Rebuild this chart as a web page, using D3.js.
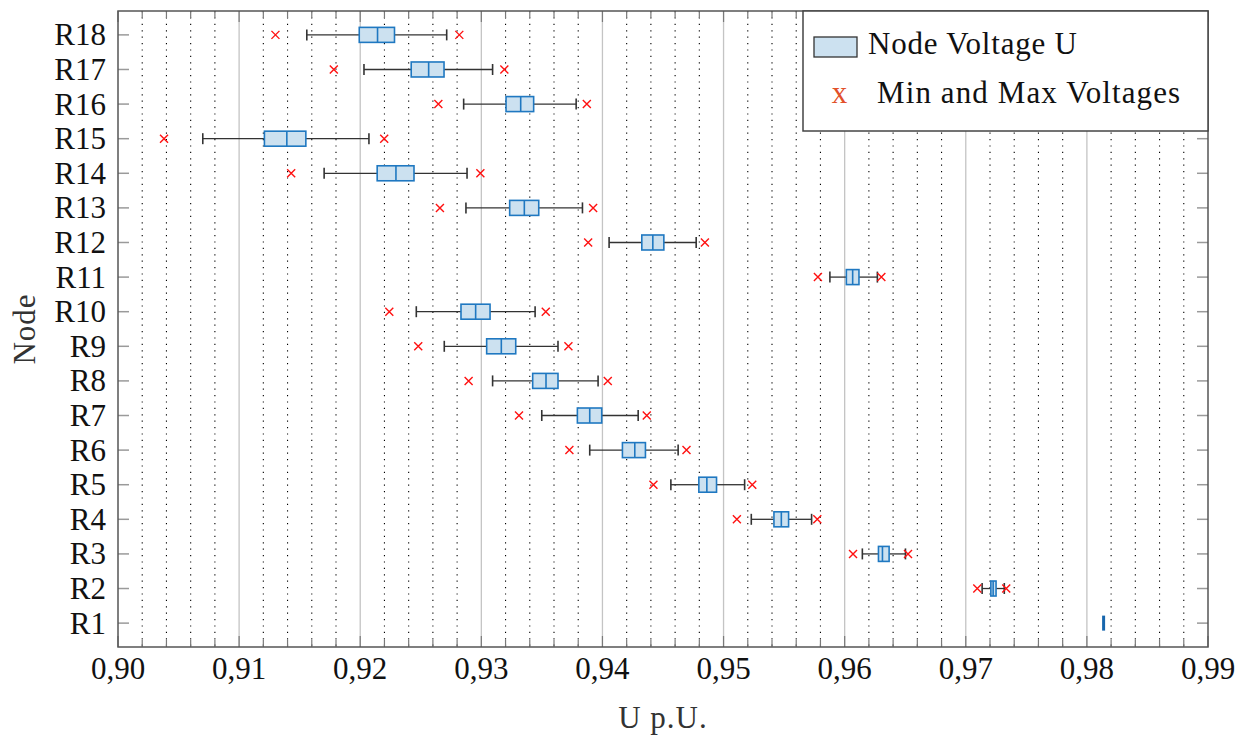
<!DOCTYPE html>
<html>
<head>
<meta charset="utf-8">
<script src="https://cdn.jsdelivr.net/npm/d3@7"></script>
<style>
  html, body { margin: 0; padding: 0; background: #fff; }
</style>
</head>
<body>
<svg id="chart" width="1238" height="735"></svg>
<script>
// Node voltage distributions (per unit) for nodes R1..R18
const nodes       = ["R1","R2","R3","R4","R5","R6","R7","R8","R9","R10","R11","R12","R13","R14","R15","R16","R17","R18"];
const whiskerLow  = [0.98138,0.97135,0.96146,0.95229,0.94565,0.93895,0.93499,0.93093,0.92694,0.92463,0.95878,0.94055,0.92873,0.91702,0.90700,0.92854,0.92031,0.91559];
const q1          = [0.98138,0.97207,0.96279,0.95416,0.94796,0.94165,0.93793,0.93424,0.93044,0.92832,0.96014,0.94325,0.93234,0.92140,0.91209,0.93204,0.92421,0.91992];
const median      = [0.98138,0.97226,0.96312,0.95477,0.94862,0.94267,0.93895,0.93534,0.93165,0.92953,0.96066,0.94416,0.93355,0.92295,0.91394,0.93325,0.92565,0.92143];
const q3          = [0.98138,0.97250,0.96367,0.95537,0.94942,0.94355,0.93994,0.93633,0.93284,0.93072,0.96118,0.94507,0.93474,0.92444,0.91551,0.93432,0.92692,0.92283];
const whiskerHigh = [0.98138,0.97318,0.96502,0.95727,0.95174,0.94625,0.94295,0.93964,0.93633,0.93444,0.96270,0.94774,0.93835,0.92882,0.92072,0.93783,0.93093,0.92714];
const minVoltage  = [null,0.97095,0.96069,0.95110,0.94421,0.93727,0.93311,0.92895,0.92479,0.92240,0.95779,0.93882,0.92658,0.91430,0.90380,0.92645,0.91782,0.91300];
const maxVoltage  = [null,0.97334,0.96523,0.95774,0.95237,0.94694,0.94366,0.94044,0.93719,0.93532,0.96303,0.94846,0.93923,0.92992,0.92198,0.93871,0.93190,0.92818];
const xMajorTicks = [0.90,0.91,0.92,0.93,0.94,0.95,0.96,0.97,0.98,0.99];
const xTickLabels = ["0,90","0,91","0,92","0,93","0,94","0,95","0,96","0,97","0,98","0,99"];
const legendLabels = ["Node Voltage U", "Min and Max Voltages"];

const rows = nodes.map((n, i) => ({
  node: n, pos: i + 1,
  lo: whiskerLow[i], q1: q1[i], med: median[i], q3: q3[i], hi: whiskerHigh[i],
  min: minVoltage[i], max: maxVoltage[i]
}));

const FONT = "'Liberation Serif', 'Times New Roman', serif";
const svg = d3.select("#chart");
const L = 118, R = 1208, T = 11, B = 647;

const x = d3.scaleLinear().domain([0.90, 0.99]).range([L, R]);
const y = d3.scaleLinear().domain([0.31, 18.69]).range([B, T]);

const boxHalf = 7.5, capHalf = 5.5, crossHalf = 4;
const boxFill = "#cce1f0", boxStroke = "#1f78c1";

// minor dotted grid (every 0.002)
const minorTicks = d3.range(0, 46).map(k => 0.90 + k * 0.002)
  .filter((v, k) => k % 5 !== 0);
svg.append("g").selectAll("line").data(minorTicks).join("line")
  .attr("x1", d => x(d)).attr("x2", d => x(d))
  .attr("y1", T).attr("y2", B)
  .attr("stroke", "#000").attr("stroke-width", 1.1)
  .attr("stroke-dasharray", "1.2 5.2");

// major grid
svg.append("g").selectAll("line").data(xMajorTicks.slice(1, -1)).join("line")
  .attr("x1", d => x(d)).attr("x2", d => x(d))
  .attr("y1", T).attr("y2", B)
  .attr("stroke", "#c4c4c4").attr("stroke-width", 1.3);

// x ticks, bottom and top
const tickG = svg.append("g").attr("stroke", "#7a7a7a").attr("stroke-width", 1.2);
minorTicks.forEach(v => {
  tickG.append("line").attr("x1", x(v)).attr("x2", x(v)).attr("y1", B).attr("y2", B - 7);
  tickG.append("line").attr("x1", x(v)).attr("x2", x(v)).attr("y1", T).attr("y2", T + 7);
});
xMajorTicks.forEach(v => {
  tickG.append("line").attr("x1", x(v)).attr("x2", x(v)).attr("y1", B).attr("y2", B - 11);
  tickG.append("line").attr("x1", x(v)).attr("x2", x(v)).attr("y1", T).attr("y2", T + 11);
});
// y ticks, left and right
const yTickG = svg.append("g").attr("stroke", "#9a9a9a").attr("stroke-width", 1.5);
rows.forEach(r => {
  yTickG.append("line").attr("x1", L).attr("x2", L + 11).attr("y1", y(r.pos)).attr("y2", y(r.pos));
  yTickG.append("line").attr("x1", R).attr("x2", R - 11).attr("y1", y(r.pos)).attr("y2", y(r.pos));
});

// box plots
const g = svg.append("g");
const row = g.selectAll("g.row").data(rows).join("g").attr("class", "row");

row.append("line")
  .attr("x1", d => x(d.lo)).attr("x2", d => x(d.q1))
  .attr("y1", d => y(d.pos)).attr("y2", d => y(d.pos))
  .attr("stroke", "#333").attr("stroke-width", 1.3);
row.append("line")
  .attr("x1", d => x(d.q3)).attr("x2", d => x(d.hi))
  .attr("y1", d => y(d.pos)).attr("y2", d => y(d.pos))
  .attr("stroke", "#333").attr("stroke-width", 1.3);
row.filter(d => d.hi > d.lo).each(function(d) {
  const s = d3.select(this);
  [d.lo, d.hi].forEach(v => s.append("line")
    .attr("x1", x(v)).attr("x2", x(v))
    .attr("y1", y(d.pos) - capHalf).attr("y2", y(d.pos) + capHalf)
    .attr("stroke", "#333").attr("stroke-width", 1.6));
});
row.filter(d => d.q3 > d.q1).append("rect")
  .attr("x", d => x(d.q1)).attr("width", d => x(d.q3) - x(d.q1))
  .attr("y", d => y(d.pos) - boxHalf).attr("height", boxHalf * 2)
  .attr("fill", boxFill).attr("stroke", boxStroke)
  .attr("stroke-width", 1.6);
// median line (a collapsed box shows as a single thick bar)
row.append("line")
  .attr("x1", d => x(d.med)).attr("x2", d => x(d.med))
  .attr("y1", d => y(d.pos) - boxHalf).attr("y2", d => y(d.pos) + boxHalf)
  .attr("stroke", d => d.q3 > d.q1 ? boxStroke : "#1766ad")
  .attr("stroke-width", d => d.q3 > d.q1 ? 1.6 : 3);

// min / max markers
const crossPath = (cx, cy) =>
  `M${cx - crossHalf},${cy - crossHalf}L${cx + crossHalf},${cy + crossHalf}M${cx - crossHalf},${cy + crossHalf}L${cx + crossHalf},${cy - crossHalf}`;
const extremes = rows.flatMap(r => r.min == null ? [] : [{v: r.min, pos: r.pos}, {v: r.max, pos: r.pos}]);
g.selectAll("path.cross").data(extremes).join("path").attr("class", "cross")
  .attr("d", d => crossPath(x(d.v), y(d.pos)))
  .attr("stroke", "#ff1010").attr("stroke-width", 1.4).attr("fill", "none");

// frame
svg.append("rect").attr("x", L).attr("y", T).attr("width", R - L).attr("height", B - T)
  .attr("fill", "none").attr("stroke", "#555").attr("stroke-width", 1.5);

// tick labels
svg.append("g").selectAll("text").data(xMajorTicks).join("text")
  .attr("x", d => x(d)).attr("y", 679).style("font-family", FONT)
  .attr("text-anchor", "middle").attr("font-size", 31).attr("fill", "#111")
  .text((d, i) => xTickLabels[i]);
svg.append("g").selectAll("text").data(rows).join("text")
  .attr("x", 106).attr("y", d => y(d.pos)).attr("dy", "0.34em").style("font-family", FONT)
  .attr("text-anchor", "end").attr("font-size", 31).attr("fill", "#111")
  .text(d => d.node);

// axis titles
svg.append("text").attr("x", (L + R) / 2).attr("y", 728).style("font-family", FONT)
  .attr("text-anchor", "middle").attr("font-size", 31).attr("fill", "#333")
  .attr("letter-spacing", 1).text("U p.U.");
svg.append("text").attr("transform", `translate(35,${(T + B) / 2}) rotate(-90)`).style("font-family", FONT)
  .attr("text-anchor", "middle").attr("font-size", 31).attr("fill", "#333")
  .attr("letter-spacing", 1).text("Node");

// legend
const lg = svg.append("g");
lg.append("rect").attr("x", 803).attr("y", T).attr("width", R - 803).attr("height", 120)
  .attr("fill", "#fff").attr("stroke", "#444").attr("stroke-width", 1.5);
lg.append("rect").attr("x", 814).attr("y", 37).attr("width", 43).attr("height", 20)
  .attr("fill", boxFill).attr("stroke", "#333").attr("stroke-width", 1.3);
lg.append("text").attr("x", 868).attr("y", 54).attr("font-size", 31).attr("fill", "#111")
  .style("font-family", FONT).attr("letter-spacing", 0.8).text(legendLabels[0]);
lg.append("text").attr("x", 839.5).attr("y", 103).attr("text-anchor", "middle")
  .style("font-family", FONT).attr("font-size", 31).attr("fill", "#e2502a").text("x");
lg.append("text").attr("x", 877).attr("y", 103).attr("font-size", 31).attr("fill", "#111")
  .style("font-family", FONT).attr("letter-spacing", 1.1).text(legendLabels[1]);
</script>
</body>
</html>
